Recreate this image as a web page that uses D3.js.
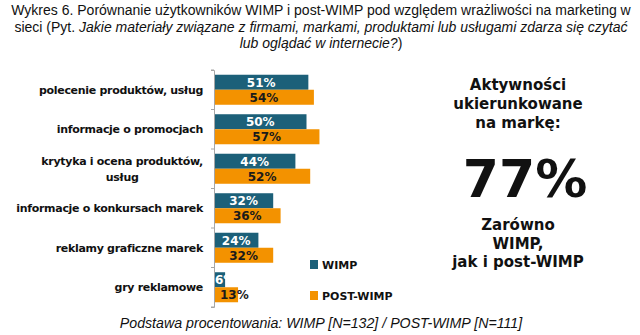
<!DOCTYPE html>
<html><head><meta charset="utf-8">
<script src="https://cdn.jsdelivr.net/npm/d3@7"></script>
<style>body{margin:0;background:#fff}svg{display:block}</style>
</head><body>
<script>
const categories = [
  ["polecenie produktów, usług"],
  ["informacje o promocjach"],
  ["krytyka i ocena produktów,", "usług"],
  ["informacje o konkursach marek"],
  ["reklamy graficzne marek"],
  ["gry reklamowe"]
];
const seriesNames = ["WIMP", "POST-WIMP"];
const wimp = [51, 50, 44, 32, 24, 6];
const postWimp = [54, 57, 52, 36, 32, 13];
const titleLines = [
  [{t:"Wykres 6. Porównanie użytkowników WIMP i post-WIMP pod względem wrażliwości na marketing w", i:false}],
  [{t:"sieci (Pyt. ", i:false},{t:"Jakie materiały związane z firmami, markami, produktami lub usługami zdarza się czytać", i:true}],
  [{t:"lub oglądać w internecie?", i:true},{t:")", i:false}]
];
const footer = "Podstawa procentowania: WIMP [N=132] / POST-WIMP [N=111]";
const sideTop = ["Aktywności", "ukierunkowane", "na markę:"];
const sideBig = "77%";
const sideBottom = ["Zarówno", "WIMP,", "jak i post-WIMP"];

const colors = {"WIMP":"#1c6079", "POST-WIMP":"#f39200"};
const labelColors = {"WIMP":"#ffffff", "POST-WIMP":"#1a1a1a"};

const W = 640, H = 335;
const svg = d3.select("body").append("svg").attr("width", W).attr("height", H);

// Title
titleLines.forEach((line, li) => {
  const t = svg.append("text").attr("x", 321).attr("y", 15 + li*16.5).attr("text-anchor","middle")
    .style("font-family","'Liberation Sans', Arial, sans-serif").style("font-size","14px").attr("fill","#111");
  line.forEach(s => t.append("tspan").text(s.t).style("font-style", s.i ? "italic" : "normal"));
});

const keys = categories.map(c => c.join(" "));
const data = keys.map((k, i) => ({key:k, lines:categories[i], vals:[wimp[i], postWimp[i]]}));

const y0 = d3.scaleBand().domain(keys).range([70, 307]).paddingInner(0.24).paddingOuter(0.12);
const y1 = d3.scaleBand().domain(seriesNames).range([0, y0.bandwidth()]);
const x = d3.scaleLinear().domain([0, 100]).range([214, 399]);

const g = svg.append("g");
const groups = g.selectAll("g.cat").data(data).join("g").attr("class","cat")
  .attr("transform", d => `translate(0,${y0(d.key)})`);

groups.selectAll("rect").data(d => seriesNames.map((s, j) => ({s, v:d.vals[j]}))).join("rect")
  .attr("x", x(0)).attr("y", d => y1(d.s)).attr("width", d => x(d.v) - x(0)).attr("height", y1.bandwidth())
  .attr("fill", d => colors[d.s]);

// value labels
groups.each(function(d) {
  const gg = d3.select(this);
  seriesNames.forEach((s, j) => {
    const v = d.vals[j];
    const t = gg.append("text").text(v + "%")
      .attr("y", y1(s) + y1.bandwidth()/2).attr("dy","0.36em")
      .attr("text-anchor","middle")
      .style("font-family","'DejaVu Sans', Verdana, sans-serif").style("font-weight","bold").style("font-size","12px")
      .attr("fill", labelColors[s]);
    const tw = t.node().getComputedTextLength();
    let cx = (x(0) + x(v)) / 2;
    if (x(v) - x(0) < tw + 4) cx = s === "WIMP" ? x(0) + tw/2 + 1 : x(0) + tw/2 + 6;
    t.attr("x", cx);
  });
});

// axis
const axis = d3.axisLeft(y0).tickSize(3).tickFormat("");
const ax = svg.append("g").attr("transform", `translate(${x(0)},0)`).call(axis);
ax.selectAll(".tick").remove();
ax.select(".domain").attr("stroke","#a6a6a6");
const bounds = d3.range(keys.length + 1).map(i => y0.range()[0] + i * y0.step());
ax.selectAll("line.b").data(bounds).join("line").attr("class","b")
  .attr("x1",-3).attr("x2",0).attr("y1",d=>d).attr("y2",d=>d).attr("stroke","#a6a6a6");

// category labels
data.forEach(d => {
  const cy = y0(d.key) + y0.bandwidth()/2;
  const n = d.lines.length;
  const t = svg.append("text").attr("text-anchor","middle")
    .style("font-family","'DejaVu Sans', Verdana, sans-serif").style("font-weight","bold").style("font-size","11px")
    .style("letter-spacing","-0.3px")
    .attr("fill","#111");
  d.lines.forEach((l, i) => t.append("tspan").text(l).attr("y", cy + (i - (n-1)/2) * 16).attr("dy","0.35em"));
  const w = d3.max(t.selectAll("tspan").nodes(), n => n.getComputedTextLength());
  const cx = 203 - w/2;
  t.selectAll("tspan").attr("x", cx);
});

// legend
const leg = svg.append("g");
seriesNames.forEach((s, i) => {
  const ly = 265 + i * 31;
  leg.append("rect").attr("x", 310).attr("y", ly - 5).attr("width", 8).attr("height", 9).attr("fill", colors[s]);
  leg.append("text").text(s).attr("x", 322).attr("y", ly).attr("dy","0.35em")
    .style("font-family","'DejaVu Sans', Verdana, sans-serif").style("font-weight","bold").style("font-size","11px").attr("fill","#111");
});

// side panel
const sf = "'DejaVu Sans', Verdana, sans-serif";
sideTop.forEach((l, i) => svg.append("text").text(l).attr("x", 518).attr("y", 85 + i*19).attr("dy","0.35em")
  .attr("text-anchor","middle").style("font-family",sf).style("font-weight","bold").style("font-size","15px").attr("fill","#111"));
svg.append("text").text(sideBig).attr("x", 525).attr("y", 197).attr("text-anchor","middle")
  .style("font-family",sf).style("font-weight","bold").style("font-size","52px").attr("fill","#111");
sideBottom.forEach((l, i) => svg.append("text").text(l).attr("x", 518).attr("y", 225 + i*18.5).attr("dy","0.35em")
  .attr("text-anchor","middle").style("font-family",sf).style("font-weight","bold").style("font-size","15px").attr("fill","#111"));

// footer
svg.append("text").text(footer).attr("x", 321).attr("y", 328).attr("text-anchor","middle")
  .style("font-family","'Liberation Sans', Arial, sans-serif").style("font-style","italic").style("font-size","14.2px").attr("fill","#111");
</script>
</body></html>
